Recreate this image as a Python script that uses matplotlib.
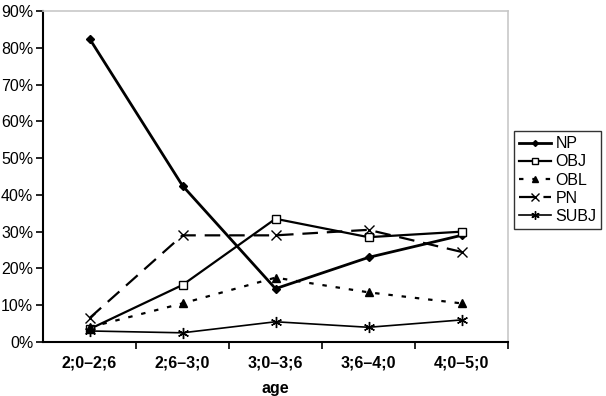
import matplotlib
matplotlib.use("Agg")
import matplotlib.pyplot as plt
from matplotlib.ticker import FixedLocator, PercentFormatter

plt.rcParams['font.family'] = ['Liberation Sans', 'DejaVu Sans']

# datos
edades = ["2;0\u20132;6", "2;6\u20133;0", "3;0\u20133;6", "3;6\u20134;0", "4;0\u20135;0"]
np_vals = [82.5, 42.5, 14.5, 23.0, 29.0]
obj_vals = [3.5, 15.5, 33.5, 28.5, 30.0]
obl_vals = [4.0, 10.5, 17.5, 13.5, 10.5]
pn_vals = [6.5, 29.0, 29.0, 30.5, 24.5]
subj_vals = [3.0, 2.5, 5.5, 4.0, 6.0]

fig = plt.figure(figsize=(6.06, 3.96), dpi=100)
ax = fig.add_axes([43 / 606, 1 - 342 / 396, (508 - 43) / 606, (342 - 11) / 396])

x = list(range(len(edades)))
ax.plot(x, np_vals, color='black', lw=2, marker='D', ms=4, label='NP')
ax.plot(x, obj_vals, color='black', lw=1.6, marker='s', ms=6, mfc='white', mew=1, label='OBJ')
ax.plot(x, obl_vals, color='black', lw=1.6, ls=(0, (2, 4)), marker='^', ms=6, label='OBL')
ax.plot(x, pn_vals, color='black', lw=1.6, ls=(0, (7, 4)), marker='x', ms=7, mew=1, label='PN')
ax.plot(x, subj_vals, color='black', lw=1.2, marker=(6, 2, 0), ms=8, mew=1, label='SUBJ')

ax.set_xlim(-0.5, 4.5)
ax.set_ylim(0, 90)
ax.yaxis.set_major_locator(FixedLocator(range(0, 91, 10)))
ax.yaxis.set_major_formatter(PercentFormatter(decimals=0))

ax.set_xticks([i + 0.5 for i in x])
ax.set_xticklabels([])
ax.set_xticks(x, minor=True)
ax.set_xticklabels(edades, minor=True, fontweight='bold', fontsize=11.5)
ax.tick_params(axis='x', which='minor', length=0, pad=10)
ax.tick_params(axis='x', which='major', length=5, width=1.2, direction='out')
ax.tick_params(axis='y', length=5, width=1.2, direction='out', labelsize=11.5, pad=2)
ax.set_xlabel('age', fontweight='bold', fontsize=11.5, labelpad=7)

for s in ['left', 'bottom']:
    ax.spines[s].set_linewidth(1.5)
for s in ['top', 'right']:
    ax.spines[s].set_color('#c8c8c8')
    ax.spines[s].set_linewidth(1.2)

leg = fig.legend(loc='center left', bbox_to_anchor=(514 / 606, 1 - 180 / 396),
                 fontsize=11.5, frameon=True, fancybox=False, edgecolor='black',
                 handlelength=2.0, borderpad=0.3, labelspacing=0.2, handletextpad=0.3,
                 borderaxespad=0, markerscale=0.75)
leg.get_frame().set_linewidth(1)

fig.savefig('out.png', dpi=100)
